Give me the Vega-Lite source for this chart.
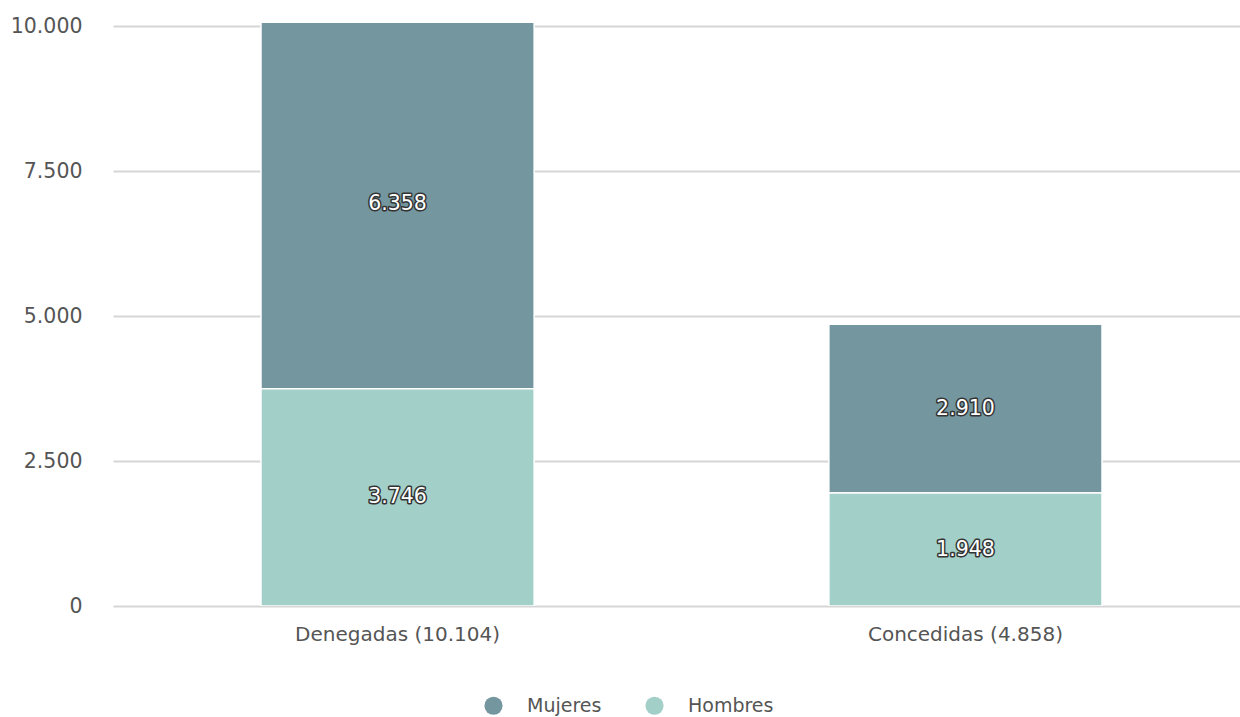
{
  "$schema": "https://vega.github.io/schema/vega-lite/v6.json",
  "width": 1127,
  "height": 583,
  "autosize": {"type": "none"},
  "padding": {"left": 113, "top": 23, "right": 0, "bottom": 111},
  "background": "white",
  "config": {
    "locale": {"number": {"decimal": ",", "thousands": ".", "grouping": [3], "currency": ["", " €"]}},
    "view": {"stroke": null},
    "font": "DejaVu Sans"
  },
  "data": {
    "values": [
      {"categoria": "Denegadas (10.104)", "sexo": "Mujeres", "valor": 6358},
      {"categoria": "Denegadas (10.104)", "sexo": "Hombres", "valor": 3746},
      {"categoria": "Concedidas (4.858)", "sexo": "Mujeres", "valor": 2910},
      {"categoria": "Concedidas (4.858)", "sexo": "Hombres", "valor": 1948}
    ]
  },
  "encoding": {
    "x": {
      "field": "categoria",
      "type": "nominal",
      "sort": ["Denegadas (10.104)", "Concedidas (4.858)"],
      "scale": {"paddingInner": 0.519, "paddingOuter": 0.2518, "align": 0.5175},
      "axis": {
        "title": null,
        "labelAngle": 0,
        "labelFontSize": 20,
        "labelColor": "#555555",
        "labelPadding": 18,
        "labelLimit": 500,
        "ticks": false,
        "domain": false,
        "labelFont": "DejaVu Sans"
      }
    },
    "y": {
      "field": "valor",
      "type": "quantitative",
      "stack": "zero",
      "scale": {"domain": [0, 10052], "nice": false},
      "axis": {
        "title": null,
        "values": [0, 2500, 5000, 7500, 10000],
        "format": ",d",
        "labelFontSize": 20.5,
        "labelColor": "#555555",
        "labelPadding": 31,
        "ticks": false,
        "domain": false,
        "gridColor": "#d6d6d6",
        "gridWidth": 2,
        "labelFont": "DejaVu Sans"
      }
    },
    "order": {"field": "sexo", "sort": "ascending"}
  },
  "layer": [
    {
      "mark": {"type": "bar", "stroke": "white", "strokeWidth": 1.5, "clip": true},
      "encoding": {
        "color": {
          "field": "sexo",
          "type": "nominal",
          "scale": {"domain": ["Mujeres", "Hombres"], "range": ["#74969e", "#a2cfc7"]},
          "legend": {
            "title": null,
            "orient": "none",
            "direction": "horizontal",
            "legendX": 371,
            "legendY": 673,
            "symbolType": "circle",
            "symbolSize": 330,
            "symbolStrokeWidth": 0,
            "labelFontSize": 19,
            "labelColor": "#555555",
            "labelOffset": 24,
            "columnPadding": 43,
            "labelFont": "DejaVu Sans"
          }
        }
      }
    },
    {
      "mark": {"type": "text", "fontSize": 20.5, "fill": "white", "stroke": "#333333", "strokeWidth": 3, "strokeJoin": "round"},
      "encoding": {
        "y": {"field": "valor", "type": "quantitative", "stack": "zero", "bandPosition": 0.5},
        "text": {"field": "valor", "type": "quantitative", "format": ",d"}
      }
    },
    {
      "mark": {"type": "text", "fontSize": 20.5, "fill": "white"},
      "encoding": {
        "y": {"field": "valor", "type": "quantitative", "stack": "zero", "bandPosition": 0.5},
        "text": {"field": "valor", "type": "quantitative", "format": ",d"}
      }
    }
  ]
}
